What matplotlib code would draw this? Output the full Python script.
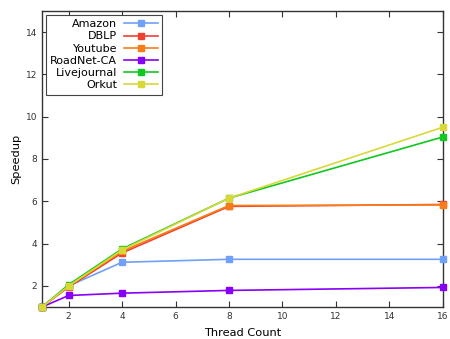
import matplotlib
matplotlib.use("Agg")
import matplotlib.pyplot as plt

threads = [1, 2, 4, 8, 16]
amazon = [1.0, 2.0, 3.12, 3.26, 3.26]
dblp = [1.0, 1.95, 3.56, 5.76, 5.85]
youtube = [1.0, 2.0, 3.64, 5.80, 5.83]
roadnet = [1.0, 1.55, 1.66, 1.79, 1.93]
livejournal = [1.0, 2.06, 3.75, 6.15, 9.04]
orkut = [1.0, 2.0, 3.70, 6.15, 9.50]

names = ["Amazon", "DBLP", "Youtube", "RoadNet-CA", "Livejournal", "Orkut"]
series = [amazon, dblp, youtube, roadnet, livejournal, orkut]
colors = ["#70a0f8", "#f04030", "#f87c18", "#8800f8", "#10c820", "#d8d838"]

fig = plt.figure(figsize=(4.5, 3.39), dpi=100)
ax = fig.add_axes([0.093, 0.094, 0.891, 0.874])
for name, vals, c in zip(names, series, colors):
    ax.plot(threads, vals, color=c, marker="s", markersize=5, linewidth=1.2,
            label=name, markeredgecolor=c, clip_on=False, zorder=3)

ax.set_xlim(1, 16)
ax.set_ylim(1, 15)
ax.set_xticks([2, 4, 6, 8, 10, 12, 14, 16])
ax.set_yticks([2, 4, 6, 8, 10, 12, 14])
ax.tick_params(direction="in", top=True, right=True, labelsize=6.5, length=4, width=0.8,
               colors="#333333", labelcolor="#333333")
for s in ax.spines.values():
    s.set_linewidth(1.0)
    s.set_color("#333333")
ax.set_xlabel("Thread Count", fontsize=8.2, labelpad=5)
ax.set_ylabel("Speedup", fontsize=8.2, labelpad=3)

leg = ax.legend(loc="upper left", markerfirst=False, fontsize=8, fancybox=False,
                handlelength=3.05, borderpad=0.4, labelspacing=0.2,
                handletextpad=0.6, borderaxespad=0.35, framealpha=1)
leg.get_frame().set_edgecolor("#444444")
leg.get_frame().set_linewidth(0.8)
leg.set_zorder(5)

fig.savefig("out.png", dpi=100)
